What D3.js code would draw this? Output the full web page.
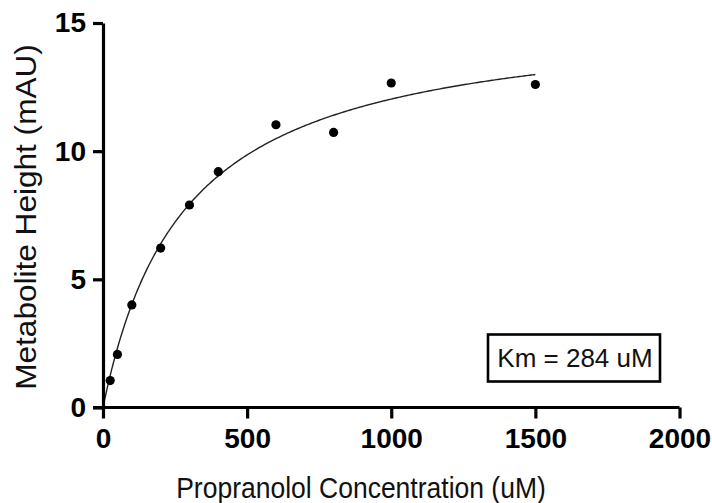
<!DOCTYPE html>
<html>
<head>
<meta charset="utf-8">
<script src="https://cdn.jsdelivr.net/npm/d3@7"></script>
<style>
  html, body { margin: 0; padding: 0; background: #fff; }
  svg { display: block; }
  text { font-family: "Liberation Sans", Arial, sans-serif; }
</style>
</head>
<body>
<svg></svg>
<script>
const width = 712;
const height = 503;

// measured points
const concentration = [25, 50, 100, 200, 300, 400, 600, 800, 1000, 1500];
const metaboliteHeight = [1.05, 2.07, 4.0, 6.22, 7.9, 9.2, 11.03, 10.73, 12.66, 12.6];

const xTicks = [0, 500, 1000, 1500, 2000];
const yTicks = [0, 5, 10, 15];

// Michaelis-Menten fit shown in the chart
const km = 284;
const vmax = 15.45;
const fitMax = 1500;

const svg = d3.select("svg")
  .attr("width", width)
  .attr("height", height);

const x = d3.scaleLinear().domain([0, 2000]).range([103, 679.5]);
const y = d3.scaleLinear().domain([0, 15]).range([407.5, 23]);

// fitted curve
const fit = d3.range(0, fitMax + 1, 5).map(c => [c, vmax * c / (km + c)]);
svg.append("path")
  .datum(fit)
  .attr("fill", "none")
  .attr("stroke", "#222")
  .attr("stroke-width", 1.4)
  .attr("d", d3.line().x(d => x(d[0])).y(d => y(d[1])));

// points
svg.selectAll(".pt")
  .data(concentration)
  .enter().append("circle")
  .attr("class", "pt")
  .attr("cx", d => x(d))
  .attr("cy", (d, i) => y(metaboliteHeight[i]))
  .attr("r", 4.6)
  .attr("fill", "#000");

// axes
const xAxis = svg.append("g")
  .attr("transform", "translate(0," + y(0) + ")")
  .call(d3.axisBottom(x).tickValues(xTicks).tickFormat(d3.format("d"))
    .tickSize(11).tickSizeOuter(0).tickPadding(10));

const yAxis = svg.append("g")
  .attr("transform", "translate(" + x(0) + ",0)")
  .call(d3.axisLeft(y).tickValues(yTicks).tickFormat(d3.format("d"))
    .tickSize(10).tickSizeOuter(0).tickPadding(7));

[xAxis, yAxis].forEach(g => {
  g.select(".domain").attr("stroke", "#000").attr("stroke-width", 3.2);
  g.selectAll(".tick line").attr("stroke", "#000").attr("stroke-width", 3.2);
  g.selectAll(".tick text")
    .attr("fill", "#000")
    .style("font-size", "28px")
    .style("font-weight", "bold")
    .style("font-family", "'Liberation Sans', Arial, sans-serif");
});
xAxis.select(".domain").attr("d", "M" + (x(0) - 10) + ",0H" + x(2000));

// axis titles
svg.append("text")
  .attr("transform", "translate(361,498) scale(1,1.14)")
  .attr("text-anchor", "middle")
  .style("font-size", "26.5px")
  .attr("fill", "#111")
  .text("Propranolol Concentration (uM)");

svg.append("text")
  .attr("transform", "translate(36,217) scale(1.08,1.17) rotate(-90)")
  .attr("text-anchor", "middle")
  .style("font-size", "27px")
  .attr("fill", "#111")
  .text("Metabolite Height (mAU)");

// Km box
const box = svg.append("g");
box.append("rect")
  .attr("x", 488).attr("y", 334.5)
  .attr("width", 172).attr("height", 47)
  .attr("fill", "#fff")
  .attr("stroke", "#000")
  .attr("stroke-width", 2.6);
box.append("text")
  .attr("x", 575).attr("y", 367)
  .attr("text-anchor", "middle")
  .style("font-size", "26px")
  .attr("fill", "#111")
  .text("Km = " + km + " uM");
</script>
</body>
</html>
